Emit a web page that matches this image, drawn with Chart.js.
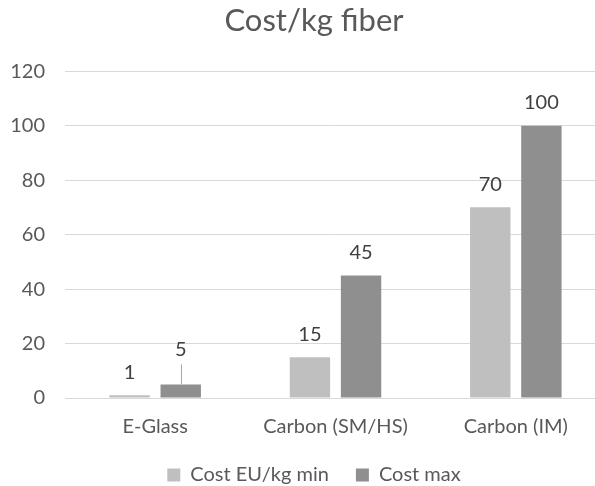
<!DOCTYPE html>
<html>
<head>
<meta charset="utf-8">
<script src="https://cdn.jsdelivr.net/npm/chart.js@4/dist/chart.umd.min.js"></script>
<style>
  html, body { margin: 0; padding: 0; background: #ffffff; overflow: hidden; }
  #wrap { width: 634px; height: 496px; }
</style>
</head>
<body>
<div id="wrap"><canvas id="c" width="634" height="496"></canvas></div>
<script>
// Fibre cost per kilogram, lower and upper estimate
const categories = ['E-Glass', 'Carbon (SM/HS)', 'Carbon (IM)'];
const costMin = [1, 15, 70];
const costMax = [5, 45, 100];
const seriesNames = ['Cost EU/kg min', 'Cost max'];
const yTicks = [0, 20, 40, 60, 80, 100, 120];

const FONT = "Lato, 'Liberation Sans', sans-serif";
const TEXT = '#595959';

// Values written above each bar; a label lifted off a short bar gets a leader line
const valueLabels = {
  id: 'valueLabels',
  afterDatasetsDraw(chart, args, opts) {
    const ctx = chart.ctx;
    ctx.save();
    ctx.font = opts.size + 'px ' + FONT;
    ctx.fillStyle = opts.color;
    ctx.textAlign = 'center';
    ctx.textBaseline = 'middle';
    chart.data.datasets.forEach((ds, di) => {
      const meta = chart.getDatasetMeta(di);
      meta.data.forEach((bar, i) => {
        const lift = (opts.lifted[di] && opts.lifted[di][i]) || 0;
        const y = bar.y - opts.offset - lift;
        ctx.fillText(String(ds.data[i]), bar.x, y);
        if (lift) {
          ctx.strokeStyle = opts.leaderColor;
          ctx.lineWidth = 1;
          ctx.beginPath();
          ctx.moveTo(Math.round(bar.x) + 0.5, y + opts.size / 2 + 5);
          ctx.lineTo(Math.round(bar.x) + 0.5, bar.y);
          ctx.stroke();
        }
      });
    });
    ctx.restore();
  }
};

new Chart(document.getElementById('c'), {
  type: 'bar',
  data: {
    labels: categories,
    datasets: [
      { label: seriesNames[0], data: costMin, backgroundColor: '#bfbfbf',
        categoryPercentage: 0.567, barPercentage: 0.79 },
      { label: seriesNames[1], data: costMax, backgroundColor: '#8f8f8f',
        categoryPercentage: 0.567, barPercentage: 0.79 }
    ]
  },
  options: {
    responsive: false,
    animation: false,
    events: [],
    layout: { padding: { left: 0, right: 6, top: 0, bottom: 1 } },
    scales: {
      x: {
        grid: { display: false, drawTicks: false },
        border: { display: true, color: '#d9d9d9', width: 1 },
        ticks: { color: TEXT, font: { family: FONT, size: 20 }, padding: 17 },
        afterFit(scale) { scale.height = 40; }
      },
      y: {
        min: 0, max: 120,
        afterBuildTicks(scale) { scale.ticks = yTicks.map(v => ({ value: v })); },
        grid: { color: '#d9d9d9', lineWidth: 1, drawTicks: false },
        border: { display: false },
        ticks: { color: TEXT, font: { family: FONT, size: 20 }, padding: 20 },
        afterFit(scale) { scale.width = 65; }
      },
      // empty margin on the right of the plot
      yRight: {
        position: 'right',
        grid: { display: false, drawTicks: false },
        border: { display: false },
        ticks: { display: false },
        afterFit(scale) { scale.width = 22; }
      }
    },
    plugins: {
      title: {
        display: true,
        text: 'Cost/kg fiber',
        color: TEXT,
        font: { family: FONT, size: 31, weight: 'normal' },
        padding: { top: 2, bottom: 32 }
      },
      legend: {
        position: 'bottom',
        labels: {
          color: TEXT,
          font: { family: FONT, size: 20 },
          boxWidth: 13, boxHeight: 13,
          padding: 27
        }
      },
      tooltip: { enabled: false },
      valueLabels: {
        size: 20, color: '#404040', offset: 23, leaderColor: '#a6a6a6',
        lifted: { 1: { 0: 12 } }
      }
    }
  },
  plugins: [valueLabels]
});
</script>
</body>
</html>
